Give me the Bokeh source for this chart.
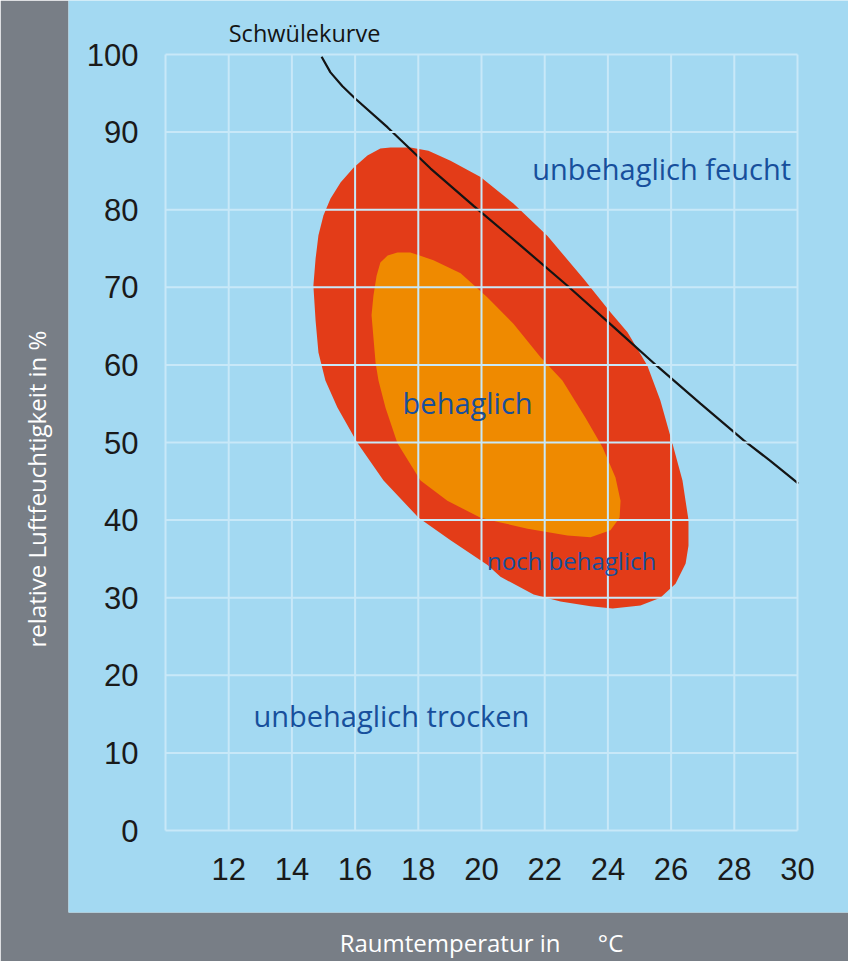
from bokeh.plotting import figure
from bokeh.models import Range1d, LinearAxis, FixedTicker
from bokeh.core.properties import value
from bokeh.embed import file_html
from bokeh.resources import INLINE

# ---- data ----
temp_ticks = [12, 14, 16, 18, 20, 22, 24, 26, 28, 30]
hum_ticks = [0, 10, 20, 30, 40, 50, 60, 70, 80, 90, 100]
temp_min, temp_max = 10, 30
hum_min, hum_max = 0, 100

# "noch behaglich" zone outline (temperature, humidity)
red_x = [17.12, 17.75, 18.32, 19.02, 19.97, 21.01, 22.09, 23.23, 24.08, 24.62,
         25.25, 25.66, 26.04, 26.36, 26.55, 26.55, 26.46, 26.14, 25.66, 25.03,
         24.15, 23.45, 22.50, 21.65, 20.60, 20.19, 19.02, 18.01, 16.90, 16.08,
         15.44, 15.06, 14.84, 14.75, 14.68, 14.75, 14.84, 15.00, 15.22, 15.54,
         15.95, 16.39, 16.80]
red_y = [88.0, 88.0, 87.6, 86.3, 84.2, 80.8, 76.6, 71.1, 66.8, 64.2,
         59.9, 55.4, 49.9, 45.1, 40.0, 36.7, 34.4, 31.8, 30.0, 29.0,
         28.6, 28.9, 29.5, 30.4, 32.7, 34.2, 37.4, 40.3, 45.1, 49.9,
         54.5, 58.0, 61.6, 65.7, 70.2, 73.7, 76.7, 79.3, 81.4, 83.5,
         85.4, 87.0, 87.9]

# "behaglich" zone outline
orange_x = [17.34, 17.75, 18.48, 19.34, 20.19, 21.01, 21.87, 22.56, 23.29, 23.83,
            24.24, 24.40, 24.37, 24.08, 23.45, 22.72, 21.46, 20.60, 19.97, 18.92,
            18.07, 17.34, 16.96, 16.74, 16.65, 16.52, 16.58, 16.68, 16.80, 17.03]
orange_y = [74.5, 74.5, 73.5, 71.8, 68.7, 65.3, 61.0, 58.0, 53.2, 49.4,
            45.5, 42.5, 40.3, 38.7, 37.8, 38.0, 38.9, 39.7, 40.3, 42.5,
            45.1, 49.9, 54.5, 58.0, 60.2, 66.4, 68.9, 71.5, 73.2, 74.1]

# Schwülekurve
curve_x = [14.94, 15.22, 15.60, 16.01, 17.03, 18.39, 19.75, 21.23, 22.72, 24.15,
           25.57, 26.93, 28.29, 29.15, 30.03]
curve_y = [99.7, 97.7, 95.9, 94.3, 90.6, 85.3, 80.5, 75.4, 70.2, 65.0,
           59.8, 55.0, 50.3, 47.6, 44.7]

zone_labels = ["unbehaglich feucht", "behaglich", "unbehaglich trocken"]
zone_x = [25.70, 19.56, 17.15]
zone_y = [85.3, 55.2, 14.8]
small_labels = ["noch behaglich"]
small_x = [22.85]
small_y = [34.8]
curve_label = ["Schwülekurve"]
curve_label_x = [14.40]
curve_label_y = [102.8]

x_title = "Raumtemperatur in\u00a0\u00a0\u00a0\u00a0\u00a0\u00a0°C"
y_title = "relative Luftfeuchtigkeit in %"
x_title_pos = 20
y_title_pos = 44

# ---- style ----
BLUE = "#a3d9f2"
GRAY = "#787e86"
RED = "#e33c18"
ORANGE = "#ef8a00"
GRID = "#c8e8f8"
TEXT_BLUE = "#174f9c"

p = figure(frame_width=780, frame_height=912,
           x_range=Range1d(6.9304, 31.6139), y_range=Range1d(-10.567, 106.959),
           x_axis_type=None, y_axis_type=None,
           toolbar_location=None, output_backend="svg",
           min_border_left=68, min_border_right=0, min_border_top=0, min_border_bottom=46,
           background_fill_color=BLUE, border_fill_color=GRAY, outline_line_color=None)
p.grid.visible = False

p.patch(red_x, red_y, fill_color=RED, line_color=None)
p.patch(orange_x, orange_y, fill_color=ORANGE, line_color=None)
p.line(curve_x, curve_y, line_color="#141414", line_width=2.2)

# grid over the zones
vx = [temp_min] + temp_ticks
p.segment(x0=vx, y0=[hum_min] * len(vx), x1=vx, y1=[hum_max] * len(vx),
          line_color=GRID, line_width=2)
p.segment(x0=[temp_min] * len(hum_ticks), y0=hum_ticks, x1=[temp_max] * len(hum_ticks), y1=hum_ticks,
          line_color=GRID, line_width=2)

p.text(zone_x, zone_y, text=zone_labels, text_font=value("Open Sans"), text_font_size="29px",
       text_color=TEXT_BLUE, text_align="center", text_baseline="middle")
p.text(small_x, small_y, text=small_labels, text_font=value("Open Sans"), text_font_size="24px",
       text_color=TEXT_BLUE, text_align="center", text_baseline="middle")
p.text(curve_label_x, curve_label_y, text=curve_label, text_font=value("Open Sans"), text_font_size="23.5px",
       text_color="#141414", text_align="center", text_baseline="middle")

def tick_axis(ticks, loc, standoff):
    return LinearAxis(ticker=FixedTicker(ticks=ticks), fixed_location=loc,
                      axis_line_color=None, major_tick_line_color=None, minor_tick_line_color=None,
                      major_tick_in=0, major_tick_out=0, major_label_standoff=standoff,
                      major_label_text_font="Liberation Sans", major_label_text_font_size="31px",
                      major_label_text_color="#1a1a1a")

p.add_layout(tick_axis(hum_ticks, temp_min, 27), "left")
p.add_layout(tick_axis(temp_ticks, hum_min, 27), "below")

def title_axis(pos, text, standoff, orient):
    return LinearAxis(ticker=FixedTicker(ticks=[pos]), major_label_overrides={pos: text},
                      axis_line_color=None, major_tick_line_color=None, minor_tick_line_color=None,
                      major_tick_in=0, major_tick_out=0, major_label_standoff=standoff,
                      major_label_orientation=orient,
                      major_label_text_font="Open Sans", major_label_text_font_size="24px",
                      major_label_text_color="white")

p.add_layout(title_axis(y_title_pos, y_title, 15, "parallel"), "left")
p.add_layout(title_axis(x_title_pos, x_title, 13, "horizontal"), "below")

open("out.html", "w").write(file_html(p, INLINE))
